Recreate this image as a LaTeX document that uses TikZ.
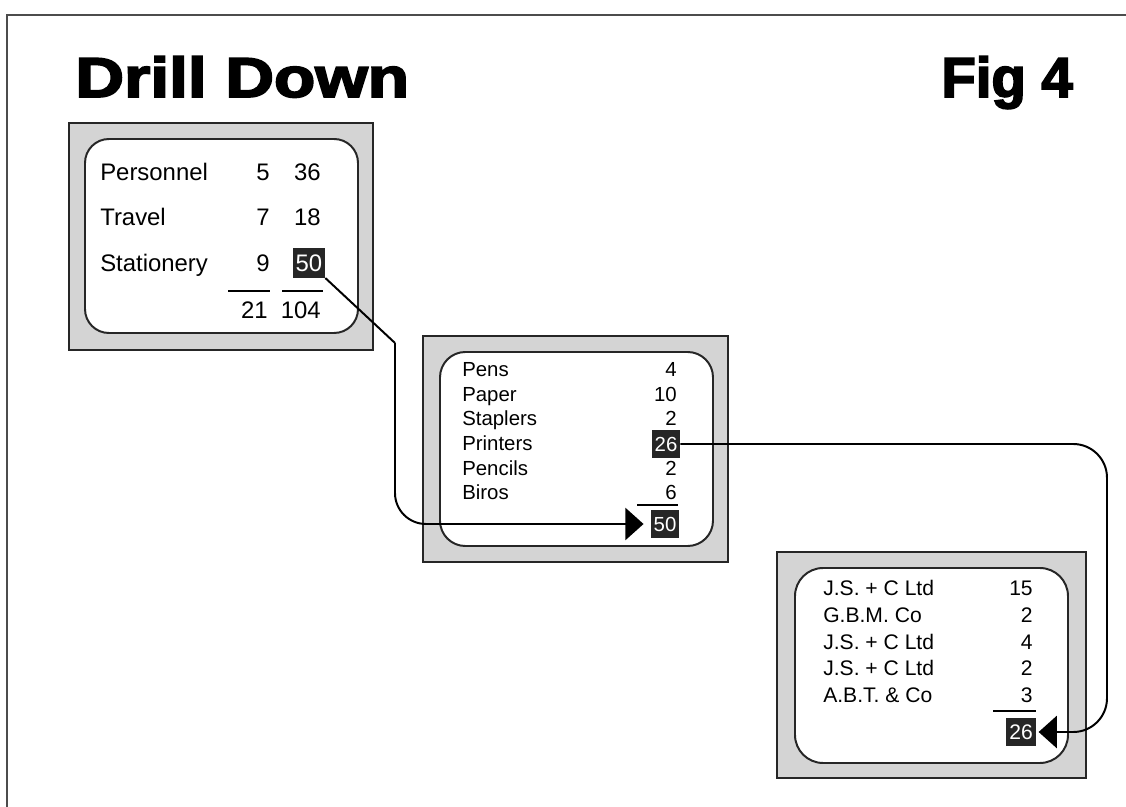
\documentclass[tikz,border=0pt]{standalone}
\usepackage{fontspec}
\setmainfont{Liberation Sans}
\newfontfamily\headfont[FakeBold=3]{Liberation Sans}
\usetikzlibrary{arrows.meta}

\begin{document}
\begin{tikzpicture}[x=0.025cm,y=-0.025cm,
	frame/.style={draw=black!85,line width=2pt,fill=black!17},
	panel/.style={draw=black!85,line width=1.4pt,fill=white},
	item/.style={anchor=base west,inner sep=0pt},
	num/.style={anchor=base east,inner sep=0pt},
	hilite/.style={fill=black!85,text=white,inner xsep=2pt,inner ysep=4.5pt},
	rule/.style={line width=1.2pt},
	link/.style={line width=1.4pt},
	tip/.style={-{Triangle[length=13pt,width=23pt]}}]
	\useasboundingbox (0,0) rectangle (1126,807);
	\draw [line width=0.8pt,black!70] (7,807) |- (1126,15);
	\node [item,font=\headfont\bfseries\fontsize{40}{40}\selectfont,xscale=1.2] (title) at (75,97) {Drill Down};
	\node [num,font=\headfont\bfseries\fontsize{40}{40}\selectfont] (fig) at (1073,97) {Fig 4};
	% first box
	\draw [frame] (69,123) rectangle (373,350);
	\draw [panel,rounded corners=17pt] (85,139) rectangle (358,333);
	\begin{scope}[every node/.style={font=\fontsize{17}{20}\selectfont}]
	\node [item] (pers) at (100,181) {Personnel};
	\node [num] (pers5) at (270,181) {5};
	\node [num] (pers36) at (321,181) {36};
	\node [item] (trav) at (100,226) {Travel};
	\node [num] (trav7) at (270,226) {7};
	\node [num] (trav18) at (321,226) {18};
	\node [item] (stat) at (100,272) {Stationery};
	\node [num] (stat9) at (270,272) {9};
	\node [hilite] (stat50) at (309,263) {50};
	\node [num] (sum21) at (268,319) {21};
	\node [num] (sum104) at (321,319) {104};
	\end{scope}
	\draw [rule] (228,291) -- (270,291);
	\draw [rule] (282,291) -- (323,291);
	% second box
	\draw [frame] (423,336) rectangle (728,562);
	\draw [panel,rounded corners=18pt] (440,352) rectangle (713,546);
	\begin{scope}[every node/.style={font=\fontsize{14.5}{17}\selectfont}]
	\node [item] (pens) at (462,377) {Pens};
	\node [num] (pens4) at (677,377) {4};
	\node [item] (paper) at (462,402) {Paper};
	\node [num] (paper10) at (677,402) {10};
	\node [item] (stapl) at (462,426) {Staplers};
	\node [num] (stapl2) at (677,426) {2};
	\node [item] (print) at (462,450) {Printers};
	\node [hilite] (print26) at (666,444) {26};
	\node [item] (penc) at (462,475) {Pencils};
	\node [num] (penc2) at (677,475) {2};
	\node [item] (biro) at (462,499) {Biros};
	\node [num] (biro6) at (677,499) {6};
	\node [hilite] (tot50) at (665,524) {50};
	\end{scope}
	\draw [rule] (637,505) -- (678,505);
	% third box
	\draw [frame] (777,552) rectangle (1086,778);
	\draw [panel,rounded corners=20pt] (795,568) rectangle (1068,763);
	\begin{scope}[every node/.style={font=\fontsize{15}{17}\selectfont}]
	\node [item] (supa) at (823,595) {J.S. + C Ltd};
	\node [num] (supa15) at (1033,595) {15};
	\node [item] (supb) at (823,622) {G.B.M. Co};
	\node [num] (supb2) at (1033,622) {2};
	\node [item] (supc) at (823,649) {J.S. + C Ltd};
	\node [num] (supc4) at (1033,649) {4};
	\node [item] (supd) at (823,675) {J.S. + C Ltd};
	\node [num] (supd2) at (1033,675) {2};
	\node [item] (supe) at (823,702) {A.B.T. \& Co};
	\node [num] (supe3) at (1033,702) {3};
	\node [hilite] (tot26) at (1021,732) {26};
	\end{scope}
	\draw [rule] (993,711) -- (1036,711);
	% drill down links
	\coordinate (kink) at (395,343);
	\coordinate (swing) at (1107,600);
	\draw [link] (stat50.south east) -- (kink);
	\draw [link,tip,rounded corners=22pt,shorten >=5pt] (kink) |- (tot50.west);
	\draw [link,tip,rounded corners=24pt,shorten >=2pt] (print26.east) -| (swing) |- (tot26.east);
\end{tikzpicture}
\end{document}
